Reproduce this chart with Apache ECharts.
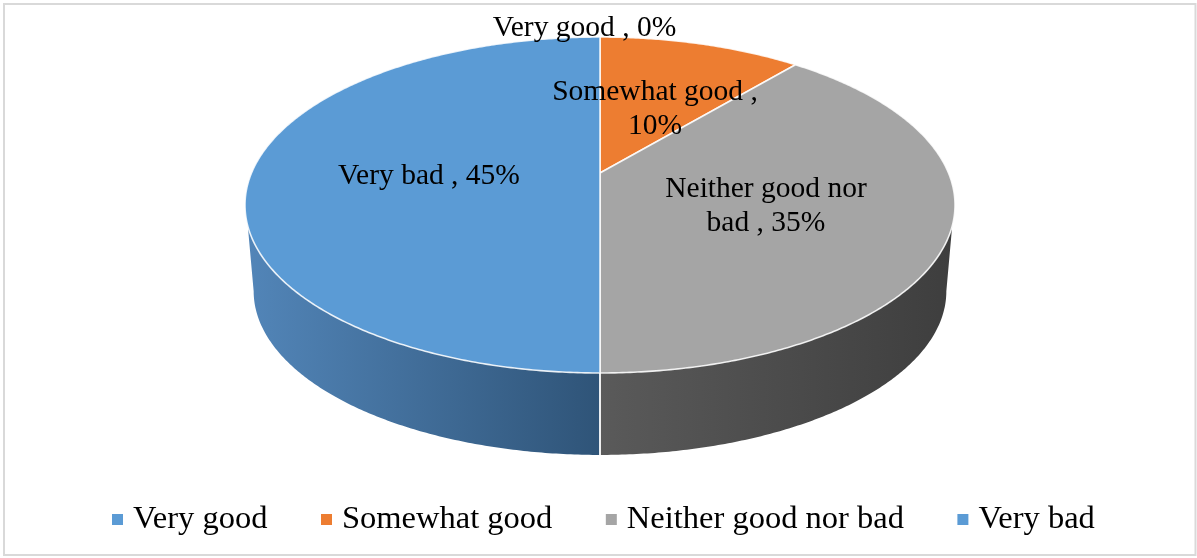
<!DOCTYPE html>
<html><head><meta charset="utf-8">
<style>html,body{margin:0;padding:0;background:#fff}#c{width:1197px;height:558px;filter:blur(0.45px)}</style>
<script src="https://cdn.jsdelivr.net/npm/echarts@6/dist/echarts.min.js"></script>
</head><body><div id="c"></div>
<script>
const categories = ['Very good', 'Somewhat good', 'Neither good nor bad', 'Very bad'];
const values = [0, 10, 35, 45];
const colors = ['#5B9BD5', '#ED7D31', '#A5A5A5', '#5B9BD5'];
const sideStops = [null, ['#B8622A', '#A0551F'], ['#5A5A5A', '#3E3E3E'], ['#5285B8', '#2F5478']];
const labelLines = [['Very good , 0%'], ['Somewhat good ,', '10%'], ['Neither good nor', 'bad , 35%'], ['Very bad , 45%']];
const labelCentres = [[584.5, 28], [655, 109], [766, 206], [429, 176]];

const TOP = {cx: 600, cy: 173, A: 348.5, B: 161.9, k: 0.1905};
const BOT = {cx: 600, cy: 260, A: 340, B: 157.8, k: 0.1905};
const total = values.reduce((a, b) => a + b, 0);

function pt(e, deg) {
  const t = deg * Math.PI / 180, u = Math.sin(t), v = -Math.cos(t), d = 1 - e.k * v;
  return [e.cx + e.A * u / d, e.cy + e.B * v / d];
}
function arc(e, a, b) {
  const n = Math.max(2, Math.ceil(Math.abs(b - a) * 2)), out = [];
  for (let i = 0; i <= n; i++) out.push(pt(e, a + (b - a) * i / n));
  return out;
}
function clip(a, b, lo, hi) { return [Math.max(a, lo), Math.min(b, hi)]; }

function renderSlice(idx) {
  return function (params, api) {
    const share = api.value(0) / total * 360;
    let start = 0;
    for (let i = 0; i < idx; i++) start += values[i] / total * 360;
    const end = start + share;
    const children = [];
    const seam = {stroke: 'rgba(255,255,255,0.85)', lineWidth: 1.6, lineJoin: 'round'};
    if (sideStops[idx] && end > 100) {
      const right = start < 180;
      const [ta, tb] = right ? clip(start, end, 108, 180) : clip(start, end, 180, 252);
      const [ba, bb] = right ? clip(start, end, 101, 180) : clip(start, end, 180, 259);
      const pts = arc(TOP, ta, tb).concat(arc(BOT, ba, bb).reverse());
      children.push({
        type: 'polygon', z2: 1, shape: {points: pts},
        style: {
          fill: {
            type: 'linear', x: 0, y: 0, x2: 1, y2: 0,
            colorStops: [{offset: 0, color: sideStops[idx][0]}, {offset: 1, color: sideStops[idx][1]}]
          }
        }
      });
      const seamX = arc(TOP, 180, 180)[0], seamB = arc(BOT, 180, 180)[0];
      children.push({type: 'line', z2: 2, shape: {x1: seamX[0], y1: seamX[1], x2: seamB[0], y2: seamB[1]}, style: seam});
    }
    if (share > 0) {
      const apex = [TOP.cx, TOP.cy];
      children.push({
        type: 'polygon', z2: 5, shape: {points: [apex].concat(arc(TOP, start, end))},
        style: Object.assign({fill: colors[idx]}, seam)
      });
    }
    const lines = labelLines[idx], c = labelCentres[idx];
    children.push({
      type: 'text', z2: 20, x: c[0], y: c[1],
      style: {
        text: lines.join('\n'), fill: '#000', align: 'center', verticalAlign: 'middle',
        font: '29.5px "Liberation Serif"', lineHeight: 34
      }
    });
    return {type: 'group', children};
  };
}

const chart = echarts.init(document.getElementById('c'), null, {renderer: 'canvas'});
chart.setOption({
  animation: false,
  backgroundColor: '#fff',
  graphic: [{type: 'rect', z: -1, silent: true, shape: {x: 4, y: 4, width: 1191.5, height: 551}, style: {fill: '#fff', stroke: '#D9D9D9', lineWidth: 2}}],
  legend: {
    left: 112, top: 503, padding: 0, itemWidth: 11, itemHeight: 11, itemGap: 53.5, icon: 'rect',
    data: categories.map((n, i) => ({name: n, itemStyle: {color: colors[i]}})),
    textStyle: {fontFamily: 'Liberation Serif', fontSize: 32.5, color: '#000', padding: [0, 0, 0, 5]}
  },
  series: categories.map((name, i) => ({
    type: 'custom', name, coordinateSystem: 'none', silent: true,
    itemStyle: {color: colors[i]},
    data: [[values[i]]],
    renderItem: renderSlice(i)
  }))
});
</script></body></html>
